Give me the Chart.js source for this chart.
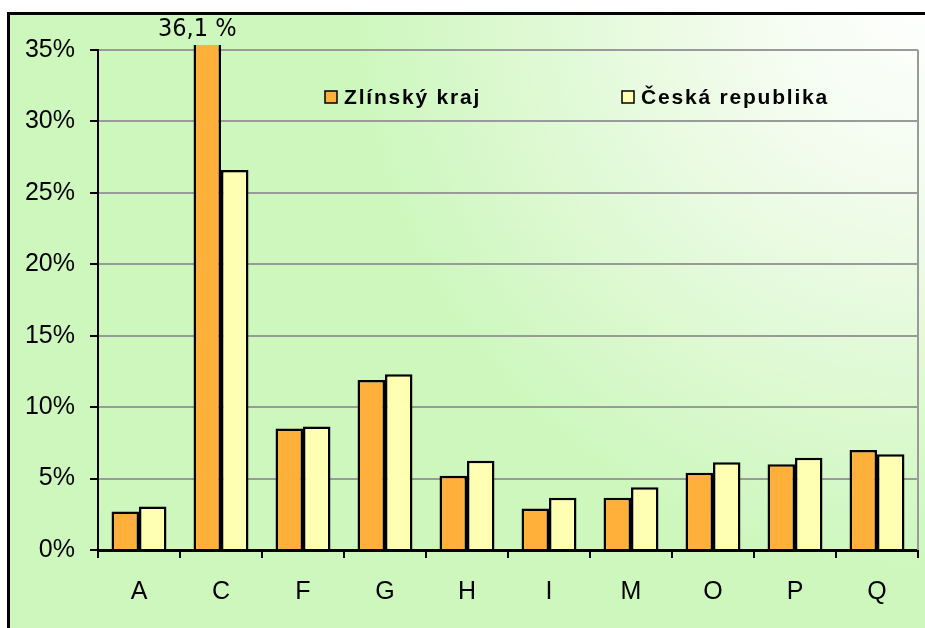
<!DOCTYPE html>
<html>
<head>
<meta charset="utf-8">
<script src="https://cdn.jsdelivr.net/npm/chart.js@4.4.1/dist/chart.umd.min.js"></script>
<style>
  body { margin: 0; background: #fff; }
  canvas { display: block; }
</style>
</head>
<body>
<canvas id="chart" width="925" height="628"></canvas>
<script>
// data (percent)
const categories = ['A', 'C', 'F', 'G', 'H', 'I', 'M', 'O', 'P', 'Q'];
const zlinValues = [2.7, 36.1, 8.5, 11.9, 5.2, 2.9, 3.65, 5.4, 6.0, 7.0];
const czValues = [3.05, 26.6, 8.65, 12.3, 6.25, 3.65, 4.4, 6.15, 6.45, 6.7];
const seriesNames = ['Zlínský kraj', 'Česká republika'];
const yTicks = [0, 5, 10, 15, 20, 25, 30, 35];

const orange = '#ffb03b';
const yellow = '#ffffb3';

// background gradient + outer frame
const backgroundPlugin = {
    id: 'background',
    beforeDraw(chart) {
        const ctx = chart.ctx;
        ctx.save();
        ctx.fillStyle = '#ffffff';
        ctx.fillRect(0, 0, chart.width, chart.height);
        const g = ctx.createRadialGradient(925, 0, 0, 925, 0, 720);
        g.addColorStop(0, '#ffffff');
        g.addColorStop(0.25, '#f3fcee');
        g.addColorStop(0.8, '#cdf7bd');
        g.addColorStop(1, '#cdf7bd');
        ctx.fillStyle = g;
        ctx.fillRect(8, 13, chart.width - 8, chart.height - 13);
        ctx.strokeStyle = '#000';
        ctx.lineWidth = 3;
        ctx.beginPath();
        ctx.moveTo(8.5, chart.height);
        ctx.lineTo(8.5, 13.5);
        ctx.lineTo(chart.width, 13.5);
        ctx.stroke();
        ctx.restore();
    },
    beforeDatasetsDraw(chart) {
        const { ctx, chartArea } = chart;
        ctx.save();
        ctx.strokeStyle = '#9a9a9a';
        ctx.lineWidth = 2;
        ctx.beginPath();
        ctx.moveTo(chartArea.right, chartArea.top);
        ctx.lineTo(chartArea.right, chartArea.bottom);
        ctx.stroke();
        ctx.restore();
    }
};

// legend inside the plot and value label of the clipped bar
const overlayPlugin = {
    id: 'overlay',
    afterDatasetsDraw(chart) {
        const ctx = chart.ctx;
        ctx.save();
        const legendX = [325, 622];
        chart.data.datasets.forEach((ds, i) => {
            const x = legendX[i];
            ctx.fillStyle = ds.backgroundColor;
            ctx.fillRect(x, 91, 12, 12);
            ctx.strokeStyle = '#000';
            ctx.lineWidth = 1.5;
            ctx.strokeRect(x, 91, 12, 12);
            ctx.fillStyle = '#000';
            ctx.font = 'bold 21px "Liberation Sans", Arial, sans-serif';
            ctx.letterSpacing = '1.8px';
            ctx.textAlign = 'left';
            ctx.textBaseline = 'middle';
            ctx.fillText(ds.label, x + 19, 98);
        });
        ctx.letterSpacing = '0px';

        const yMax = chart.scales.y.max;
        const meta = chart.getDatasetMeta(0);
        zlinValues.forEach((v, i) => {
            if (v > yMax) {
                const bar = meta.data[i];
                ctx.fillStyle = '#000';
                ctx.font = '25px "Liberation Sans Narrow", "DejaVu Sans Condensed", sans-serif';
                ctx.textAlign = 'center';
                ctx.textBaseline = 'middle';
                ctx.fillText(String(v).replace('.', ',') + ' %', bar.x - 10, 29);
            }
        });
        ctx.restore();
    }
};

new Chart(document.getElementById('chart'), {
    type: 'bar',
    data: {
        labels: categories,
        datasets: [{
            label: seriesNames[0],
            data: zlinValues,
            backgroundColor: orange,
            borderColor: '#000',
            borderWidth: 2.5,
            borderSkipped: 'bottom',
            categoryPercentage: 0.67,
            barPercentage: 1.0,
            clip: { left: 0, top: 5, right: 0, bottom: 0 }
        }, {
            label: seriesNames[1],
            data: czValues,
            backgroundColor: yellow,
            borderColor: '#000',
            borderWidth: 2.5,
            borderSkipped: 'bottom',
            categoryPercentage: 0.67,
            barPercentage: 1.0,
            clip: { left: 0, top: 5, right: 0, bottom: 0 }
        }]
    },
    options: {
        responsive: false,
        animation: false,
        layout: { padding: { top: 50, right: 7, left: 0, bottom: 0 } },
        plugins: {
            legend: { display: false },
            tooltip: { enabled: false }
        },
        scales: {
            x: {
                grid: {
                    offset: true,
                    drawOnChartArea: false,
                    tickLength: 8,
                    tickColor: '#000',
                    lineWidth: 2
                },
                border: { color: '#000', width: 3 },
                ticks: {
                    color: '#000',
                    padding: 19,
                    font: { family: '"Liberation Sans", Arial, sans-serif', size: 25 }
                },
                afterFit(scale) { scale.height = 78; }
            },
            y: {
                min: 0,
                max: 35,
                afterBuildTicks(scale) {
                    scale.ticks = yTicks.map(v => ({ value: v }));
                },
                grid: {
                    color: '#9a9a9a',
                    lineWidth: 2,
                    tickLength: 8,
                    tickColor: '#000'
                },
                border: { color: '#000', width: 2 },
                ticks: {
                    color: '#000',
                    padding: 15,
                    font: { family: '"Liberation Sans", Arial, sans-serif', size: 25 },
                    callback: v => v + '%'
                },
                afterFit(scale) { scale.width = 98; }
            }
        }
    },
    plugins: [backgroundPlugin, overlayPlugin]
});
</script>
</body>
</html>
